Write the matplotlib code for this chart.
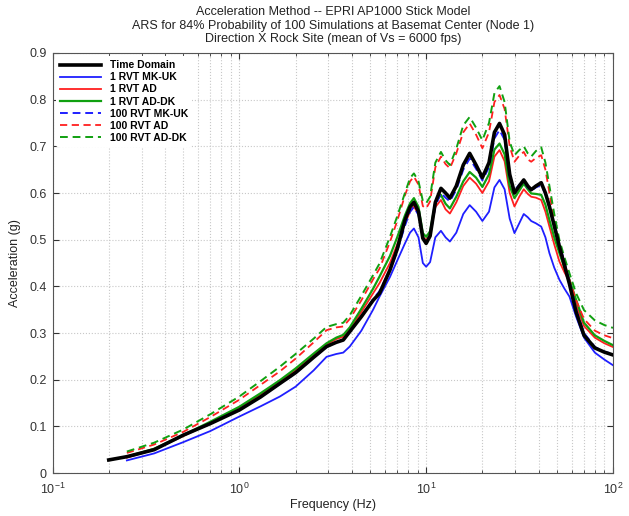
import numpy as np
import matplotlib

matplotlib.use("Agg")
import matplotlib.pyplot as plt
from matplotlib.ticker import LogLocator, NullFormatter

plt.rcParams["font.family"] = ["Liberation Sans", "DejaVu Sans"]

# frequency grid (Hz), shared by all series
freq = [0.2, 0.25, 0.35, 0.5, 0.7, 1.0, 1.3, 1.65, 2.0, 2.5, 2.93, 3.3, 3.6, 3.9,
        4.5, 5.2, 5.63, 6.4, 7.0, 7.7, 8.2, 8.6, 9.1, 9.6, 10.0, 10.5, 11.2, 12.0,
        12.7, 13.4, 14.5, 15.8, 17.1, 18.5, 20.0, 21.7, 23.2, 24.7, 26.3, 28.0,
        29.7, 31.5, 33.3, 35.0, 36.5, 38.7, 41.3, 43.5, 45.7, 48.5, 51.7, 55.0,
        58.5, 63.5, 70.0, 80.0, 90.0, 100.0]

nan = float("nan")

time_domain = [0.028, 0.035, 0.050, 0.081, 0.106, 0.135, 0.163, 0.192, 0.215, 0.248,
               0.271, 0.280, 0.285, 0.303, 0.335, 0.370, 0.385, 0.435, 0.480, 0.542,
               0.570, 0.580, 0.560, 0.503, 0.492, 0.508, 0.580, 0.610, 0.600, 0.589,
               0.615, 0.660, 0.685, 0.660, 0.633, 0.665, 0.730, 0.749, 0.725, 0.640,
               0.600, 0.615, 0.628, 0.615, 0.607, 0.615, 0.622, 0.600, 0.571, 0.530,
               0.485, 0.445, 0.405, 0.345, 0.295, 0.268, 0.259, 0.253]

rvt1_mkuk = [nan, 0.027, 0.042, 0.066, 0.090, 0.121, 0.143, 0.164, 0.185, 0.220,
             0.249, 0.255, 0.258, 0.271, 0.305, 0.350, 0.378, 0.420, 0.455, 0.492,
             0.515, 0.524, 0.505, 0.450, 0.442, 0.452, 0.505, 0.519, 0.505, 0.496,
             0.515, 0.555, 0.574, 0.560, 0.540, 0.560, 0.612, 0.628, 0.608, 0.545,
             0.514, 0.535, 0.555, 0.548, 0.540, 0.535, 0.528, 0.505, 0.471, 0.440,
             0.414, 0.395, 0.378, 0.335, 0.290, 0.258, 0.243, 0.231]

rvt1_ad = [nan, 0.033, 0.050, 0.079, 0.107, 0.140, 0.168, 0.196, 0.220, 0.252,
           0.275, 0.287, 0.292, 0.308, 0.345, 0.385, 0.407, 0.450, 0.490, 0.535,
           0.560, 0.571, 0.555, 0.506, 0.499, 0.510, 0.570, 0.585, 0.565, 0.556,
           0.580, 0.615, 0.633, 0.620, 0.600, 0.625, 0.678, 0.692, 0.668, 0.600,
           0.571, 0.592, 0.608, 0.598, 0.592, 0.590, 0.585, 0.560, 0.528, 0.490,
           0.453, 0.430, 0.410, 0.360, 0.315, 0.290, 0.278, 0.270]

rvt1_addk = [nan, 0.035, 0.052, 0.081, 0.110, 0.142, 0.171, 0.199, 0.224, 0.256,
             0.278, 0.290, 0.296, 0.312, 0.352, 0.395, 0.421, 0.465, 0.505, 0.552,
             0.578, 0.589, 0.570, 0.514, 0.506, 0.518, 0.580, 0.596, 0.577, 0.567,
             0.592, 0.625, 0.645, 0.633, 0.613, 0.640, 0.693, 0.706, 0.683, 0.615,
             0.589, 0.605, 0.620, 0.608, 0.599, 0.598, 0.596, 0.575, 0.542, 0.505,
             0.471, 0.440, 0.414, 0.371, 0.322, 0.295, 0.283, 0.274]

rvt100_mkuk = [nan, 0.034, 0.050, 0.080, 0.106, 0.136, 0.163, 0.191, 0.214, 0.247,
               0.270, 0.280, 0.286, 0.302, 0.336, 0.372, 0.390, 0.435, 0.475, 0.530,
               0.560, 0.570, 0.553, 0.503, 0.495, 0.507, 0.572, 0.600, 0.590, 0.582,
               0.607, 0.650, 0.674, 0.652, 0.627, 0.655, 0.717, 0.735, 0.714, 0.635,
               0.605, 0.618, 0.626, 0.612, 0.605, 0.612, 0.617, 0.598, 0.568, 0.530,
               0.490, 0.452, 0.412, 0.350, 0.300, 0.270, 0.260, 0.255]

rvt100_ad = [nan, 0.043, 0.061, 0.088, 0.120, 0.157, 0.189, 0.218, 0.245, 0.280,
             0.306, 0.312, 0.314, 0.330, 0.370, 0.415, 0.438, 0.495, 0.540, 0.595,
             0.625, 0.635, 0.618, 0.572, 0.567, 0.582, 0.655, 0.678, 0.662, 0.653,
             0.685, 0.730, 0.749, 0.725, 0.696, 0.730, 0.795, 0.810, 0.780, 0.700,
             0.667, 0.680, 0.688, 0.672, 0.667, 0.675, 0.681, 0.650, 0.600, 0.540,
             0.485, 0.450, 0.414, 0.370, 0.330, 0.305, 0.295, 0.289]

rvt100_addk = [nan, 0.046, 0.065, 0.093, 0.126, 0.164, 0.197, 0.228, 0.255, 0.288,
               0.313, 0.319, 0.322, 0.338, 0.380, 0.424, 0.449, 0.506, 0.550, 0.600,
               0.632, 0.642, 0.625, 0.583, 0.578, 0.592, 0.665, 0.688, 0.670, 0.660,
               0.695, 0.745, 0.763, 0.740, 0.713, 0.750, 0.814, 0.829, 0.795, 0.710,
               0.681, 0.692, 0.700, 0.685, 0.678, 0.690, 0.698, 0.665, 0.615, 0.555,
               0.499, 0.462, 0.428, 0.385, 0.349, 0.327, 0.317, 0.311]

labels = ["Time Domain", "1 RVT MK-UK", "1 RVT AD", "1 RVT AD-DK",
          "100 RVT MK-UK", "100 RVT AD", "100 RVT AD-DK"]


def main() -> None:
    fig = plt.figure(figsize=(6.29, 5.16), dpi=100)
    ax = fig.add_axes([0.0835, 0.0833, 0.891, 0.814])

    ax.grid(True, which="major", axis="both", color="#c8c8c8", linestyle=":", linewidth=0.8)
    ax.grid(True, which="minor", axis="x", color="#c8c8c8", linestyle=":", linewidth=0.8)

    series = [
        (time_domain, "black", "-", 2.6),
        (rvt1_mkuk, "#1f1fff", "-", 1.3),
        (rvt1_ad, "#ff1f1f", "-", 1.3),
        (rvt1_addk, "#10a010", "-", 1.6),
        (rvt100_mkuk, "#1f1fff", (0, (4, 2.5)), 1.4),
        (rvt100_ad, "#ff1f1f", (0, (4, 2.5)), 1.3),
        (rvt100_addk, "#10a010", (0, (4, 2.5)), 1.4),
    ]
    lines = []
    for (vals, color, ls, lw), lab in zip(series, labels):
        (ln,) = ax.plot(freq, vals, color=color, linestyle=ls, linewidth=lw, label=lab)
        lines.append(ln)
    # draw time domain on top of the 100 RVT MK-UK trace
    lines[0].set_zorder(3)

    ax.set_xscale("log")
    ax.set_xlim(0.1, 100)
    ax.set_ylim(0, 0.9)
    ax.set_yticks(np.arange(0, 0.91, 0.1))
    ax.set_yticklabels(["0", "0.1", "0.2", "0.3", "0.4", "0.5", "0.6", "0.7", "0.8", "0.9"])
    ax.xaxis.set_minor_locator(LogLocator(base=10, subs=np.arange(2, 10)))
    ax.xaxis.set_minor_formatter(NullFormatter())
    ax.tick_params(which="both", direction="in", top=True, right=True, labelsize=9, colors="#333333")
    ax.tick_params(which="major", length=4)
    ax.tick_params(which="minor", length=2)
    ax.tick_params(axis="x", pad=6)
    ax.tick_params(axis="y", pad=4)
    for sp in ax.spines.values():
        sp.set_color("#555555")
        sp.set_linewidth(0.8)

    ax.set_xlabel("Frequency (Hz)", fontsize=9, color="#222222", labelpad=2)
    ax.set_ylabel("Acceleration (g)", fontsize=9, color="#222222", labelpad=6)
    ax.set_title("Acceleration Method -- EPRI AP1000 Stick Model\n"
                 "ARS for 84% Probability of 100 Simulations at Basemat Center (Node 1)\n"
                 "Direction X Rock Site (mean of Vs = 6000 fps)",
                 fontsize=9, color="#222222", linespacing=1.15, pad=8)

    leg = ax.legend(loc="upper left", frameon=True, framealpha=1.0,
                    edgecolor="white", handlelength=4.0, borderaxespad=0.3,
                    labelspacing=0.2, prop={"weight": "bold", "size": 7.5})
    leg.get_frame().set_linewidth(0)

    fig.savefig("out.png", dpi=100)
    plt.close(fig)


if __name__ == "__main__":
    main()
